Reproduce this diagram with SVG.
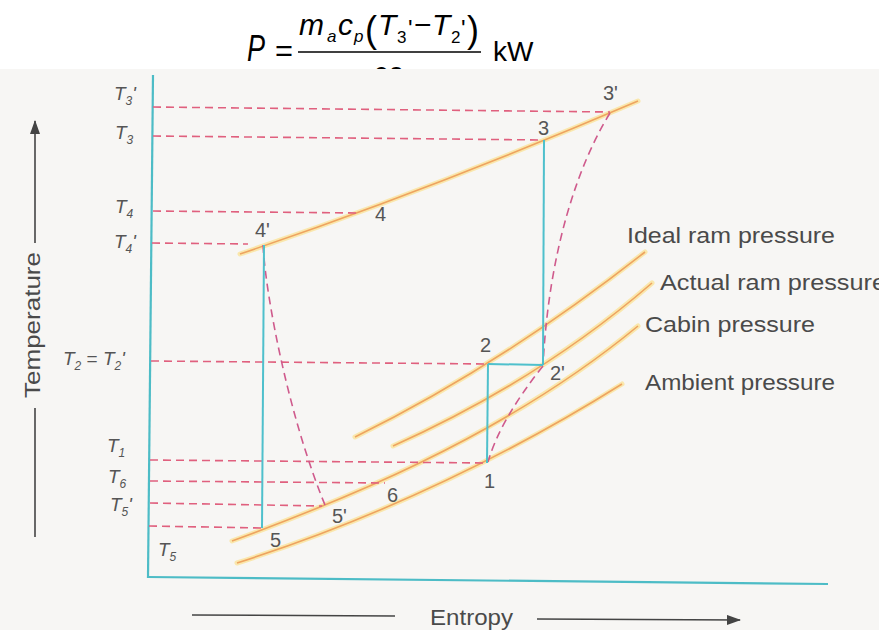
<svg xmlns="http://www.w3.org/2000/svg" width="879" height="630" viewBox="0 0 879 630">
<defs>
<style>
.math{font-family:"Liberation Sans","DejaVu Sans",sans-serif;font-style:italic;fill:#000}
.rm{font-family:"Liberation Sans","DejaVu Sans",sans-serif;fill:#000}
.ax{stroke:#4dbcc6;stroke-width:2.2;fill:none}
.proc{stroke:#4fc0cc;stroke-width:2;fill:none}
.dash{stroke:#e0607e;stroke-width:1.6;stroke-dasharray:8 5;fill:none}
.dashc{stroke:#cf5a8c;stroke-width:1.6;stroke-dasharray:8 5;fill:none}
.glow{stroke:#fae49a;stroke-width:5;fill:none;opacity:.8;stroke-linecap:round}
.pl{stroke:#eea460;stroke-width:1.6;fill:none}
.lbl{font-family:"Liberation Sans",sans-serif;font-size:22px;fill:#4a4a4a}
.pt{font-family:"Liberation Sans",sans-serif;font-size:20px;fill:#555}
.tl{font-family:"Liberation Sans",sans-serif;font-style:italic;font-size:19px;fill:#555}
.sub{font-size:12px}
.arr{stroke:#444;stroke-width:1.6;fill:none}
</style>
<marker id="ah" markerWidth="14" markerHeight="10" refX="13" refY="5" orient="auto" markerUnits="userSpaceOnUse"><path d="M0,0 L14,5 L0,10 z" fill="#444"/></marker>
<clipPath id="fc"><rect x="0" y="0" width="879" height="69"/></clipPath>
</defs>
<rect x="0" y="0" width="879" height="630" fill="#fff"/>
<g id="formula">
<text class="math" x="247" y="61" font-size="36" textLength="18" lengthAdjust="spacingAndGlyphs">P</text>
<text class="rm" x="275" y="61" font-size="30" textLength="18" lengthAdjust="spacingAndGlyphs">=</text>
<text class="math" x="299" y="35" font-size="30">m</text>
<text class="math" x="327" y="42" font-size="17">a</text>
<text class="math" x="338" y="35" font-size="30">c</text>
<text class="math" x="354" y="42" font-size="17">p</text>
<text class="rm" x="365" y="42" font-size="36">(</text>
<text class="math" x="378" y="35" font-size="30">T</text>
<text class="rm" x="397" y="43" font-size="17">3</text>
<text class="rm" x="408" y="37" font-size="24">'</text>
<text class="rm" x="414" y="35" font-size="30">−</text>
<text class="math" x="432" y="35" font-size="30">T</text>
<text class="rm" x="451" y="43" font-size="17">2</text>
<text class="rm" x="461" y="37" font-size="24">'</text>
<text class="rm" x="467" y="42" font-size="36">)</text>
<line x1="298" y1="52" x2="481" y2="52" stroke="#000" stroke-width="1.6"/>
<text class="rm" x="493" y="61" font-size="28">kW</text>
<text class="rm" x="373" y="86" font-size="28" clip-path="url(#fc)">60</text>
</g>
<rect x="0" y="69" width="879" height="561" fill="#f7f6f4"/>
<g id="axes">
<line class="ax" x1="153" y1="75" x2="148" y2="578"/>
<line class="ax" x1="148" y1="577" x2="828" y2="584"/>
</g>
<g id="pressure-lines">
<path class="glow" d="M240,254 Q430,190 638,101"/>
<path class="glow" d="M355,437 Q500,366 645,252"/>
<path class="glow" d="M393,446 Q540,380 652,283"/>
<path class="glow" d="M232,541 C330,505 500,440 638,326"/>
<path class="glow" d="M237,563 Q440,498 622,384"/>
<path class="pl" d="M240,254 Q430,190 638,101"/>
<path class="pl" d="M355,437 Q500,366 645,252"/>
<path class="pl" d="M393,446 Q540,380 652,283"/>
<path class="pl" d="M232,541 C330,505 500,440 638,326"/>
<path class="pl" d="M237,563 Q440,498 622,384"/>
</g>
<g id="connectors">
<path class="dash" d="M153,107 L610,112"/>
<path class="dash" d="M153,136 L542,140"/>
<path class="dash" d="M153,211 L357,213"/>
<path class="dash" d="M152,243 L248,244"/>
<path class="dash" d="M151,361 L487,364"/>
<path class="dash" d="M150,460 L487,463"/>
<path class="dash" d="M150,481 L385,483"/>
<path class="dash" d="M150,503 L322,506"/>
<path class="dash" d="M149,526 L262,528"/>
<path class="dashc" d="M610,113 C578,165 549,250 543,365"/>
<path class="dashc" d="M263,245 C266,300 290,420 325,505"/>
<path class="dashc" d="M543,366 Q500,420 488,462"/>
<path class="proc" d="M264,245 L262,528"/>
<path class="proc" d="M544,140 L543,365"/>
<path class="proc" d="M488,364 L543,365"/>
<path class="proc" d="M488,364 L487,463"/>
</g>
<g id="point-labels">
<g id="p4p"><text class="pt" x="255" y="237">4'</text></g>
<g id="p4"><text class="pt" x="375" y="221">4</text></g>
<g id="p3"><text class="pt" x="538" y="135">3</text></g>
<g id="p3p"><text class="pt" x="603" y="100">3'</text></g>
<g id="p2"><text class="pt" x="480" y="352">2</text></g>
<g id="p2p"><text class="pt" x="550" y="380">2'</text></g>
<g id="p1"><text class="pt" x="484" y="488">1</text></g>
<g id="p5"><text class="pt" x="270" y="547">5</text></g>
<g id="p5p"><text class="pt" x="332" y="523">5'</text></g>
<g id="p6"><text class="pt" x="387" y="502">6</text></g>
</g>
<g id="temp-labels">
<text class="tl" x="114" y="100">T<tspan class="sub" dy="5">3</tspan><tspan dy="-5">'</tspan></text>
<text class="tl" x="115" y="139">T<tspan class="sub" dy="5">3</tspan></text>
<text class="tl" x="115" y="213">T<tspan class="sub" dy="5">4</tspan></text>
<text class="tl" x="114" y="248">T<tspan class="sub" dy="5">4</tspan><tspan dy="-5">'</tspan></text>
<text class="tl" x="63" y="365">T<tspan class="sub" dy="5">2</tspan><tspan dy="-5" font-style="normal"> = </tspan>T<tspan class="sub" dy="5">2</tspan><tspan dy="-5">'</tspan></text>
<text class="tl" x="107" y="452">T<tspan class="sub" dy="5">1</tspan></text>
<text class="tl" x="108" y="483">T<tspan class="sub" dy="5">6</tspan></text>
<text class="tl" x="110" y="511">T<tspan class="sub" dy="5">5</tspan><tspan dy="-5">'</tspan></text>
<text class="tl" x="158" y="556">T<tspan class="sub" dy="5">5</tspan></text>
</g>
<g id="line-labels">
<text class="lbl" x="627" y="243" textLength="208" lengthAdjust="spacingAndGlyphs">Ideal ram pressure</text>
<text class="lbl" x="660" y="290" textLength="226" lengthAdjust="spacingAndGlyphs">Actual ram pressure</text>
<text class="lbl" x="645" y="332" textLength="170" lengthAdjust="spacingAndGlyphs">Cabin pressure</text>
<text class="lbl" x="645" y="390" textLength="190" lengthAdjust="spacingAndGlyphs">Ambient pressure</text>
</g>
<g id="axis-titles">
<text class="lbl" transform="translate(40,325) rotate(-90)" text-anchor="middle" textLength="146" lengthAdjust="spacingAndGlyphs">Temperature</text>
<path class="arr" d="M35,537 L35,408"/>
<path class="arr" d="M35,243 L35,121" marker-end="url(#ah)"/>
<text class="lbl" x="430" y="625" textLength="83" lengthAdjust="spacingAndGlyphs">Entropy</text>
<path class="arr" d="M192,615 L395,616"/>
<path class="arr" d="M537,619 L740,620" marker-end="url(#ah)"/>
</g>
</svg>
